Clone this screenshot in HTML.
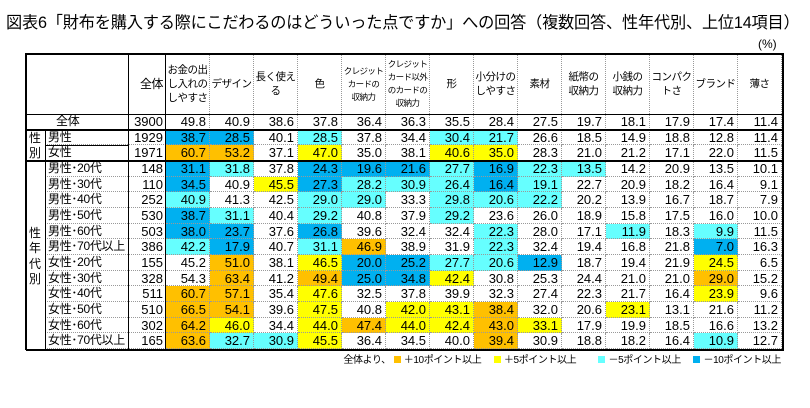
<!DOCTYPE html>
<html><head><meta charset="utf-8"><style>
body{margin:0;width:810px;height:408px;background:#fff;position:relative;overflow:hidden;font-family:"Liberation Sans","Noto Sans CJK JP",sans-serif;color:#000}
.t{position:absolute;white-space:nowrap}
.c{position:absolute;box-sizing:border-box;font-size:13px;line-height:15px;text-align:right;padding-right:3px;border-right:1px dotted #999;border-bottom:1px dotted #999;white-space:nowrap;overflow:hidden}
.h{position:absolute;box-sizing:border-box;font-size:10.5px;line-height:14px;letter-spacing:-0.5px;text-align:center;display:flex;align-items:center;justify-content:center;border-right:1px dotted #999;white-space:nowrap}
.h small{font-size:8.5px;line-height:13px;letter-spacing:-0.6px}
.ln{position:absolute;background:#000}
</style></head><body>
<div class="t" style="left:6px;top:9px;font-size:16.2px;letter-spacing:-0.2px;">図表6「財布を購入する際にこだわるのはどういった点ですか」への回答（複数回答、性年代別、上位14項目）</div>
<div class="t" style="left:758px;top:37px;font-size:12px;">(%)</div>
<div id="tbl"></div>
<div class="t" style="right:29px;top:351px;font-size:10px;letter-spacing:-0.4px;">全体より、<span><span style="display:inline-block;width:7px;height:7px;background:#ffc000;margin:0 3px"></span>＋10ポイント以上</span>　<span><span style="display:inline-block;width:7px;height:7px;background:#ffff00;margin:0 3px"></span>＋5ポイント以上</span>　　<span><span style="display:inline-block;width:7px;height:7px;background:#66ffff;margin:0 3px"></span>－5ポイント以上</span>　<span><span style="display:inline-block;width:7px;height:7px;background:#00b0f0;margin:0 3px"></span>－10ポイント以上</span></div>
<script>
const columns=["お金の出<br>し入れの<br>しやすさ","デザイン","長く使え<br>る","色","<small>クレジット<br>カードの<br>収納力</small>","<small>クレジット<br>カード以外<br>のカードの<br>収納力</small>","形","小分けの<br>しやすさ","素材","紙幣の<br>収納力","小銭の<br>収納力","コンパク<br>トさ","ブランド","薄さ"];
const rowLabels=["全体","男性","女性","男性･20代","男性･30代","男性･40代","男性･50代","男性･60代","男性･70代以上","女性･20代","女性･30代","女性･40代","女性･50代","女性･60代","女性･70代以上"];
const counts=[3900,1929,1971,148,110,252,530,503,386,155,328,511,510,302,165];
const values=[
[49.8,40.9,38.6,37.8,36.4,36.3,35.5,28.4,27.5,19.7,18.1,17.9,17.4,11.4],
[38.7,28.5,40.1,28.5,37.8,34.4,30.4,21.7,26.6,18.5,14.9,18.8,12.8,11.4],
[60.7,53.2,37.1,47.0,35.0,38.1,40.6,35.0,28.3,21.0,21.2,17.1,22.0,11.5],
[31.1,31.8,37.8,24.3,19.6,21.6,27.7,16.9,22.3,13.5,14.2,20.9,13.5,10.1],
[34.5,40.9,45.5,27.3,28.2,30.9,26.4,16.4,19.1,22.7,20.9,18.2,16.4,9.1],
[40.9,41.3,42.5,29.0,29.0,33.3,29.8,20.6,22.2,20.2,13.9,16.7,18.7,7.9],
[38.7,31.1,40.4,29.2,40.8,37.9,29.2,23.6,26.0,18.9,15.8,17.5,16.0,10.0],
[38.0,23.7,37.6,26.8,39.6,32.4,32.4,22.3,28.0,17.1,11.9,18.3,9.9,11.5],
[42.2,17.9,40.7,31.1,46.9,38.9,31.9,22.3,32.4,19.4,16.8,21.8,7.0,16.3],
[45.2,51.0,38.1,46.5,20.0,25.2,27.7,20.6,12.9,18.7,19.4,21.9,24.5,6.5],
[54.3,63.4,41.2,49.4,25.0,34.8,42.4,30.8,25.3,24.4,21.0,21.0,29.0,15.2],
[60.7,57.1,35.4,47.6,32.5,37.8,39.9,32.3,27.4,22.3,21.7,16.4,23.9,9.6],
[66.5,54.1,39.6,47.5,40.8,42.0,43.1,38.4,32.0,20.6,23.1,13.1,21.6,11.2],
[64.2,46.0,34.4,44.0,47.4,44.0,42.4,43.0,33.1,17.9,19.9,18.5,16.6,13.2],
[63.6,32.7,30.9,45.5,36.4,34.5,40.0,39.4,30.9,18.8,18.2,16.4,10.9,12.7]];
const colorCodes=[
"..............",
"BB.C..CC......",
"OO.Y..YY......",
"BC.BBBCBCC....",
"B.YBCCCBC.....",
"C..CC.CCC.....",
"BC.C..C.......",
"BB.B...C..C.C.",
"CB.CO..C....B.",
".O.YBBCCB...Y.",
".O.OBBY.....O.",
"OO.Y........Y.",
"OO.Y.YYO..Y...",
"OY.YOYYOY.....",
"OCCY...O....C."];
const palette={O:"#ffc000",Y:"#ffff00",C:"#66ffff",B:"#00b0f0",".":"transparent"};
const tbl=document.getElementById('tbl');
const X0=26,XL=128,XN=166,CW=44,Y0=54,YH=114,RH=15.67,XR=782;
function colX(j){return XN+j*CW;}
function rowY(i){return YH+i*RH;}
function add(cls,st,html){const d=document.createElement('div');d.className=cls;Object.assign(d.style,st);d.innerHTML=html||'';tbl.appendChild(d);return d;}
let h=add('h',{left:XN-38+'px',top:Y0+'px',width:'38px',height:(YH-Y0)+'px',fontSize:'12px',justifyContent:'flex-end',paddingRight:'3px',borderRight:'none'},'全体');


columns.forEach((c,j)=>{const w=(j==13?XR-colX(j):CW);
 const e=add('h',{left:colX(j)+'px',top:Y0+'px',width:w+'px',height:(YH-Y0)+'px'},c);
 
 });
rowLabels.forEach((r,i)=>{const y=rowY(i);
 const l=add('c',{left:(i==0?X0:45)+'px',top:y+'px',width:(i==0?XL-X0:XL-45)+'px',height:RH+'px',textAlign:'left',paddingLeft:(i==0?'30px':'3px'),fontSize:'12px',letterSpacing:'-0.3px',borderRight:'none'},r);
 
 
 const n=add('c',{left:XL+'px',top:y+'px',width:(XN-XL)+'px',height:RH+'px',borderRight:'none'},counts[i]);
 
 
 values[i].forEach((v,j)=>{const w=(j==13?XR-colX(j):CW);
  const cell=add('c',{left:colX(j)+'px',top:y+'px',width:w+'px',height:RH+'px',background:palette[colorCodes[i][j]]},v.toFixed(1));
  
  });
});
const g1=add('t',{left:'29px',top:(rowY(1)+1)+'px',fontSize:'12px',lineHeight:'15.6px',width:'14px',whiteSpace:'normal'},'性<br>別');


const g2=add('t',{left:'29px',top:(rowY(7)+2)+'px',fontSize:'12px',lineHeight:'15.6px',width:'14px',whiteSpace:'normal'},'性<br>年<br>代<br>別');


function line(x,y,w,hh){add('ln',{left:x+'px',top:y+'px',width:w+'px',height:hh+'px'});}
line(X0,Y0-1,XR-X0,2);line(X0,349,XR-X0+1,2);line(X0-1,Y0-1,2,297);line(XR,Y0-1,2,298);
line(XL,Y0,1,295);line(XN-1,Y0,1,295);line(45,rowY(1),1,RH*14);
line(X0,YH,XR-X0,1);line(X0,rowY(1)-1,XR-X0,2);line(X0,rowY(3)-1,XR-X0,2);
line(45,rowY(2),XL-45,1);
</script>
</body></html>
